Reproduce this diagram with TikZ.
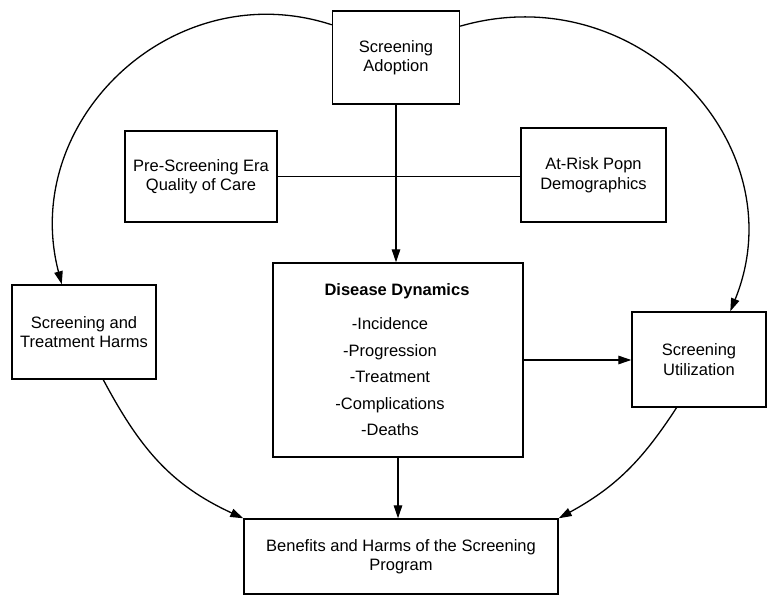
\documentclass[tikz,border=0pt]{standalone}
\usepackage{fontspec}
\setmainfont{Liberation Sans}
\usetikzlibrary{arrows.meta}
\begin{document}
\begin{tikzpicture}[x=1pt,y=-1pt,
  box/.style={draw, line width=1.4pt, inner sep=0pt, align=center,
              font=\fontsize{16.5}{19.5}\selectfont},
  link/.style={line width=1.3pt},
  arr/.style={link, -{Triangle[length=13pt,width=8.5pt]}}]
\useasboundingbox (0,0) rectangle (768,596);

% boxes
\node[box, minimum width=127pt, minimum height=93pt] (adopt) at (396,57.5) {Screening\\Adoption};
\node[box, minimum width=152pt, minimum height=91pt] (pre) at (201,176.5) {Pre-Screening Era\\Quality of Care};
\node[box, minimum width=145pt, minimum height=94pt] (risk) at (593.5,175) {At-Risk Popn\\Demographics};
\node[box, minimum width=144pt, minimum height=94pt] (harms) at (84,332) {Screening and\\Treatment Harms};
\node[box, minimum width=250pt, minimum height=194pt] (dis) at (398,360) {};
\node[box, minimum width=134pt, minimum height=95pt] (util) at (699,359.5) {Screening\\Utilization};
\node[box, minimum width=314pt, minimum height=75pt] (ben) at (401,556.5) {Benefits and Harms of the Screening\\Program};

% text of the central box
\node[anchor=base, inner sep=0pt, font=\fontsize{16.5}{19.5}\selectfont\bfseries] (distitle) at (397,295) {Disease Dynamics};
\node[inner sep=0pt, align=center, font=\fontsize{16.5}{26.5}\selectfont] (dislist) at (390,377)
  {-Incidence\\-Progression\\-Treatment\\-Complications\\-Deaths};

% straight connectors
\draw[link] (pre.east) -- (pre.east -| risk.west);
\draw[arr] (adopt.south) -- (adopt.south |- dis.north);
\draw[arr] (dis.east) -- (dis.east -| util.west);
\draw[arr] (dis.south) -- (dis.south |- ben.north);

% outer arcs
\draw[arr] (adopt.153) .. controls (173,-27) and (19,121) .. (harms.115);
\draw[arr] (adopt.26) .. controls (637,-25) and (798,145) .. (util.57);
\draw[arr] (harms.-68) .. controls (140.5,449.6) and (171.5,485.2) .. (ben.north west);
\draw[arr] (util.245) .. controls (641.6,461.5) and (614.9,487.5) .. (ben.north east);
\end{tikzpicture}
\end{document}
